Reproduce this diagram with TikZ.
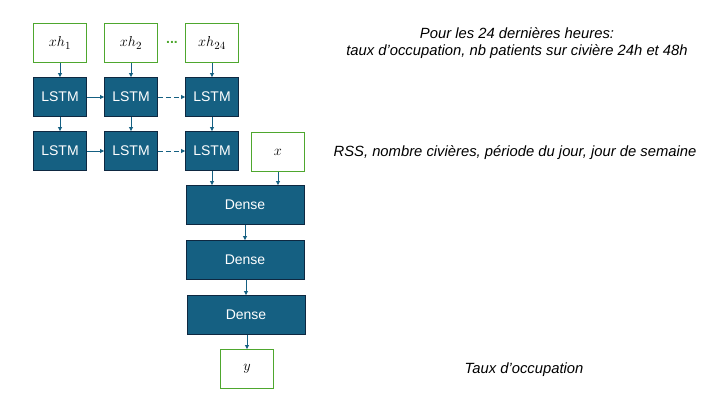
\documentclass[tikz,border=0pt]{standalone}
\usepackage{fontspec}
\setmainfont{Liberation Sans}
\usetikzlibrary{arrows.meta}
\definecolor{cellblue}{HTML}{156082}
\definecolor{celledge}{HTML}{0E2841}
\definecolor{ingreen}{HTML}{4EA72E}

\begin{document}
\begin{tikzpicture}[x=1pt, y=-1pt,
  inbox/.style={draw=ingreen, line width=0.9pt, fill=white, minimum width=53pt, minimum height=39pt, inner sep=0pt, font=\fontsize{15.5}{17}\selectfont},
  cell/.style={draw=celledge, fill=cellblue, line width=0.9pt, text=white, minimum width=53pt, minimum height=39pt, inner sep=0pt, font=\fontsize{14}{16}\selectfont},
  dense/.style={cell, minimum width=118pt},
  flow/.style={draw=cellblue, line width=0.8pt, -{Triangle[length=4pt,width=4pt]}},
  note/.style={font=\fontsize{14.8}{17}\selectfont\itshape, align=center}]
  \useasboundingbox (0,0) rectangle (723,406);

  % inputs
  \node[inbox] (xh1) at (60,43) {$xh_1$};
  \node[inbox] (xh2) at (131,43) {$xh_2$};
  \node[inbox] (xh24) at (212,43) {$xh_{24}$};
  \node[text=ingreen, font=\fontsize{14}{15}\selectfont\bfseries] (dots) at (172,42) {...};
  \node[inbox] (xs) at (278,152) {$x$};

  % lstm cells
  \node[cell] (l11) at (60,97) {LSTM};
  \node[cell] (l12) at (131,97) {LSTM};
  \node[cell] (l13) at (212,97) {LSTM};
  \node[cell] (l21) at (60,151) {LSTM};
  \node[cell] (l22) at (131,151) {LSTM};
  \node[cell] (l23) at (212,151) {LSTM};

  % dense layers and output
  \node[dense] (d1) at (245,205) {Dense};
  \node[dense] (d2) at (245,260) {Dense};
  \node[dense] (d3) at (246,315) {Dense};
  \node[inbox] (out) at (247,369) {$y$};

  \draw[flow] (xh1) -- (l11);
  \draw[flow] (xh2) -- (l12);
  \draw[flow] (xh24) -- (l13);
  \draw[flow] (l11) -- (l21);
  \draw[flow] (l12) -- (l22);
  \draw[flow] (l13) -- (l23);
  \draw[flow] (l11) -- (l12);
  \draw[flow] (l21) -- (l22);
  \draw[flow, dash pattern=on 5pt off 3pt] (l12) -- (l13);
  \draw[flow, dash pattern=on 5pt off 3pt] (l22) -- (l23);
  \draw[flow] (l23.south) -- (l23.south |- d1.north);
  \draw[flow] (xs.south) -- (xs.south |- d1.north);
  \draw[flow] (d1.south -| d2.north) -- (d2.north);
  \draw[flow] (d2.south -| d3.north) -- (d3.north);
  \draw[flow] (d3.south -| out.north) -- (out.north);

  % notes
  \node[note] (n1) at (517,43) {Pour les 24 dernières heures:\\taux d’occupation, nb patients sur civière 24h et 48h};
  \node[note] (n2) at (515,153) {RSS, nombre civières, période du jour, jour de semaine};
  \node[note] (n3) at (524,370) {Taux d’occupation};
\end{tikzpicture}
\end{document}
